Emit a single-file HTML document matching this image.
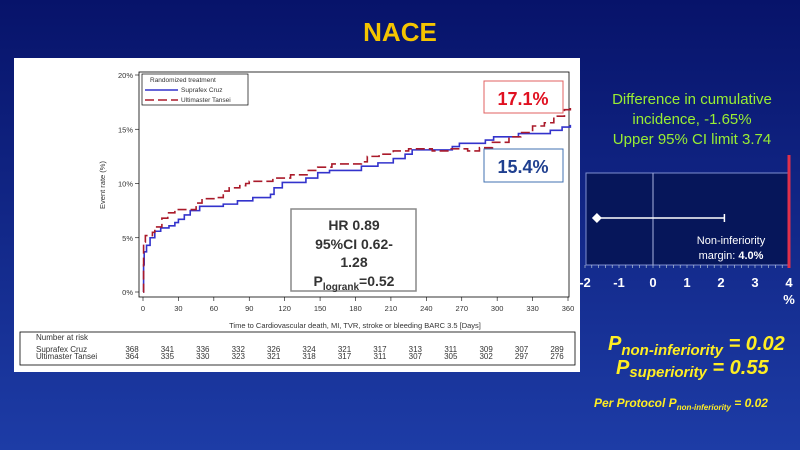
<!DOCTYPE html>
<html><head><meta charset="utf-8"><style>
body{margin:0;width:800px;height:450px;overflow:hidden;}
svg{display:block;font-family:"Liberation Sans",Arial,sans-serif;}
</style></head><body>
<svg width="800" height="450" viewBox="0 0 800 450">
<defs><linearGradient id="bg" x1="0" y1="0" x2="0" y2="1"><stop offset="0" stop-color="#07136a"/><stop offset="1" stop-color="#1d3ca6"/></linearGradient></defs>
<rect width="800" height="450" fill="url(#bg)"/>
<text x="400" y="41" text-anchor="middle" font-size="26" font-weight="bold" fill="#f5c400">NACE</text>
<rect x="14" y="58" width="566" height="314" fill="#fff"/>
<g id="km"></g>
<g id="forest"></g>
<g fill="#99ee33" font-size="15" text-anchor="middle">
<text x="692" y="104">Difference in cumulative</text>
<text x="692" y="124">incidence, -1.65%</text>
<text x="692" y="144">Upper 95% CI limit 3.74</text>
</g>
<g fill="#ffee22" font-weight="bold" font-style="italic">
<text x="608" y="350" font-size="20">P<tspan font-size="15" dy="5">non-inferiority</tspan><tspan dy="-5"> = 0.02</tspan></text>
<text x="616" y="374" font-size="20">P<tspan font-size="15" dy="3">superiority</tspan><tspan dy="-3">  = 0.55</tspan></text>
<text x="594" y="407" font-size="12">Per Protocol P<tspan font-size="8" dy="3">non-inferiority</tspan><tspan dy="-3"> = 0.02</tspan></text>
</g>
</svg>
<script>
const tickDays=[0,30,60,90,120,150,180,210,240,270,300,330,360];
const yTicks=[0,5,10,15,20];
const blueDays=[0,0.5,1,3,6,10,15,22,27,30,35,40,48,68,80,93,108,111,118,138,148,158,185,199,212,222,228,262,268,290,297,318,345,355,362];
const blueVals=[0,2.5,3.7,4.3,5.0,5.6,5.9,6.1,6.4,6.7,7.1,7.5,7.9,8.1,8.4,8.7,9.0,9.6,10.1,10.5,11.0,11.2,11.6,11.9,12.3,12.7,13.1,13.4,13.7,14.0,14.3,14.6,14.9,15.2,15.4];
const redDays=[0,0.5,2,8,10,16,21,27,45,50,62,68,73,82,87,90,110,125,140,148,160,185,190,200,212,225,245,260,275,285,296,310,320,330,340,348,357,362];
const redVals=[0,4.6,5.2,5.5,6.0,6.8,7.3,7.6,8.2,8.6,8.7,9.3,9.6,9.8,10.0,10.2,10.5,10.8,11.2,11.5,11.8,12.0,12.5,12.7,13.0,13.2,13.0,13.2,13.0,13.3,13.8,14.3,14.7,15.3,15.6,16.2,16.8,17.1];
const riskBlue=[368,341,336,332,326,324,321,317,313,311,309,307,289];
const riskRed=[364,335,330,323,321,318,317,311,307,305,302,297,276];
const forestTicks=[-2,-1,0,1,2,3,4];
const pointEst=-1.65, ciUpper=2.1, margin=4;

const NS="http://www.w3.org/2000/svg";
function mk(p,t,a,txt){const e=document.createElementNS(NS,t);for(const k in a)e.setAttribute(k,a[k]);if(txt!==undefined)e.textContent=txt;p.appendChild(e);return e;}
const X=d=>143+d*(568-143)/360, Y=v=>292-v*(292-75)/20;
const km=document.getElementById('km');
let e=mk(km,'rect',{x:139,y:72,width:430,height:225,fill:'none',stroke:'#000','stroke-width':0.8});

yTicks.forEach(v=>{mk(km,'line',{x1:135,x2:139,y1:Y(v),y2:Y(v),stroke:'#000','stroke-width':0.6});
 e=mk(km,'text',{x:133,y:Y(v)+3,'font-size':7.5,'text-anchor':'end',fill:'#333'},v+'%');
 });
tickDays.forEach(d=>{mk(km,'line',{x1:X(d),x2:X(d),y1:297,y2:301,stroke:'#000','stroke-width':0.6});
 e=mk(km,'text',{x:X(d),y:311,'font-size':7.5,'text-anchor':'middle',fill:'#333'},d);
 });
e=mk(km,'text',{x:355,y:328,'font-size':7.5,'text-anchor':'middle',fill:'#333'},'Time to Cardiovascular death, MI, TVR, stroke or bleeding BARC 3.5 [Days]');

e=mk(km,'text',{x:0,y:0,'font-size':7.5,'text-anchor':'middle',fill:'#333',transform:'translate(105,185) rotate(-90)'},'Event rate (%)');

function step(days,vals){let d='M'+X(days[0])+','+Y(vals[0]);for(let i=1;i<days.length;i++){d+='H'+X(days[i])+'V'+Y(vals[i]);}return d;}
e=mk(km,'path',{d:step(blueDays,blueVals),fill:'none',stroke:'#3333cc','stroke-width':1.6});

e=mk(km,'path',{d:step(redDays,redVals),fill:'none',stroke:'#aa1a2a','stroke-width':1.6,'stroke-dasharray':'9,4'});

let lg=mk(km,'g',{});
mk(lg,'rect',{x:142,y:74,width:106,height:31,fill:'#fff',stroke:'#000','stroke-width':0.7});
mk(lg,'text',{x:150,y:82,'font-size':6.5,fill:'#333'},'Randomized treatment');
mk(lg,'line',{x1:145,x2:178,y1:90,y2:90,stroke:'#3333cc','stroke-width':1.5});
mk(lg,'text',{x:181,y:92,'font-size':6.5,fill:'#333'},'Suprafex Cruz');
mk(lg,'line',{x1:145,x2:178,y1:100,y2:100,stroke:'#aa1a2a','stroke-width':1.5,'stroke-dasharray':'9,4'});
mk(lg,'text',{x:181,y:102,'font-size':6.5,fill:'#333'},'Ultimaster Tansei');
e=mk(km,'rect',{x:484,y:81,width:79,height:32,fill:'#fff',stroke:'#e06060','stroke-width':1});

mk(km,'text',{x:523,y:105,'font-size':18,'font-weight':'bold','text-anchor':'middle',fill:'#e01020'},'17.1%');
e=mk(km,'rect',{x:484,y:149,width:79,height:33,fill:'#fff',stroke:'#4070b0','stroke-width':1});

mk(km,'text',{x:523,y:173,'font-size':18,'font-weight':'bold','text-anchor':'middle',fill:'#1f3f8f'},'15.4%');
e=mk(km,'rect',{x:291,y:209,width:125,height:82,fill:'#fff',stroke:'#888','stroke-width':1.5});

[['HR 0.89',230],['95%CI 0.62-',249],['1.28',267]].forEach(t=>mk(km,'text',{x:354,y:t[1],'font-size':14,'font-weight':'bold','text-anchor':'middle',fill:'#333'},t[0]));
let pt=mk(km,'text',{x:354,y:286,'font-size':14,'font-weight':'bold','text-anchor':'middle',fill:'#333'});
pt.innerHTML='P<tspan font-size="10" dy="4">logrank</tspan><tspan dy="-4">=0.52</tspan>';
let rt=mk(km,'g',{});
mk(rt,'rect',{x:20,y:332,width:555,height:33,fill:'none',stroke:'#000','stroke-width':0.8});
mk(rt,'text',{x:36,y:340,'font-size':8,fill:'#333'},'Number at risk');
mk(rt,'text',{x:36,y:352,'font-size':8,fill:'#333'},'Suprafex Cruz');
mk(rt,'text',{x:36,y:359,'font-size':8,fill:'#333'},'Ultimaster Tansei');
tickDays.forEach((d,i)=>{const x=132+i*(557-132)/12;
 mk(rt,'text',{x:x,y:352,'font-size':8,'text-anchor':'middle',fill:'#333'},riskBlue[i]);
 mk(rt,'text',{x:x,y:359,'font-size':8,'text-anchor':'middle',fill:'#333'},riskRed[i]);});
const fo=document.getElementById('forest');
const FX=v=>653+v*(789-653)/4;
e=mk(fo,'rect',{x:586,y:173,width:FX(4)-586,height:92,fill:'#06165a',stroke:'#7f8fd0','stroke-width':1});

mk(fo,'line',{x1:FX(0),x2:FX(0),y1:173,y2:265,stroke:'#aab4e0','stroke-width':1});
for(let v=-2;v<=4.001;v+=0.2)mk(fo,'line',{x1:FX(v),x2:FX(v),y1:265,y2:268,stroke:'#cdd','stroke-width':0.6});
forestTicks.forEach(v=>{e=mk(fo,'text',{x:FX(v),y:287,'font-size':13,'font-weight':'bold','text-anchor':'middle',fill:'#fff'},v);
 });
mk(fo,'text',{x:789,y:304,'font-size':13,'font-weight':'bold','text-anchor':'middle',fill:'#fff'},'%');
e=mk(fo,'line',{x1:FX(margin),x2:FX(margin),y1:155,y2:268,stroke:'#e0304a','stroke-width':3});

e=mk(fo,'line',{x1:FX(pointEst),x2:FX(ciUpper),y1:218,y2:218,stroke:'#fff','stroke-width':1.5});

mk(fo,'line',{x1:FX(ciUpper),x2:FX(ciUpper),y1:214,y2:222,stroke:'#fff','stroke-width':1.5});
const px=FX(pointEst);
e=mk(fo,'path',{d:`M${px-5},218L${px},213L${px+5},218L${px},223Z`,fill:'#fff'});

mk(fo,'text',{x:731,y:244,'font-size':11,'text-anchor':'middle',fill:'#fff'},'Non-inferiority');
let mt=mk(fo,'text',{x:731,y:259,'font-size':11,'text-anchor':'middle',fill:'#fff'});
mt.innerHTML='margin: <tspan font-weight="bold">4.0%</tspan>';
</script>
</body></html>
